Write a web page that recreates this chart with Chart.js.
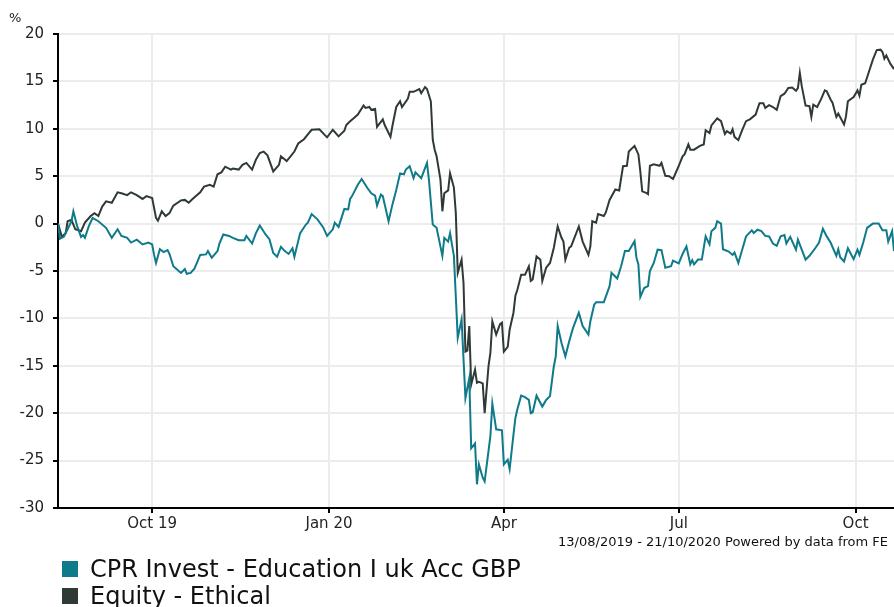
<!DOCTYPE html>
<html>
<head>
<meta charset="utf-8">
<script src="https://cdn.jsdelivr.net/npm/chart.js@4.4.0/dist/chart.umd.min.js"></script>
<style>
body { margin:0; background:#fff; font-family:"DejaVu Sans", Verdana, sans-serif; }
#wrap { position:relative; width:894px; height:607px; overflow:hidden; }
#unit { position:absolute; left:9px; top:10px; font-size:13px; color:#222; }
#source { position:absolute; right:6px; top:534px; font-size:13px; color:#111; white-space:nowrap; }
#legend { position:absolute; left:62px; top:555px; font-size:24px; color:#111; }
.item { display:flex; align-items:center; height:27px; white-space:nowrap; }
.sw { width:16px; height:16px; margin-right:12px; }
</style>
</head>
<body>
<div id="wrap">
  <canvas id="chart" width="894" height="607"></canvas>
  <div id="unit">%</div>
  <div id="source">13/08/2019 - 21/10/2020 Powered by data from FE</div>
  <div id="legend"></div>
</div>
<script>
// days counted from 13/08/2019
var tickDays = [49, 141, 232, 323, 415];
var tickLabels = ["Oct 19", "Jan 20", "Apr", "Jul", "Oct"];

var seriesNames = ["CPR Invest - Education I uk Acc GBP", "Equity - Ethical"];
var seriesColors = ["#0e7a8a", "#2f3a37"];

var cprDays = [0,1,3,5,7,8,10,12,13,14,16,18,21,25,28,31,33,36,38,41,44,47,49,50,51,53,55,57,58,60,64,66,67,69,71,74,77,78,80,83,84,86,89,91,94,97,98,101,103,105,108,110,112,114,116,118,120,122,123,126,129,130,132,135,138,140,143,144,146,149,151,152,
  153,156,158,161,163,165,166,168,169,172,174,176,178,180,181,183,185,186,189,192,193,195,197,200,201,203,204,206,208,210,212,214,215,217,218,219,221,222,225,226,228,231,232,234,235,
  237,238,239,241,243,245,246,247,249,252,254,256,258,259,260,262,264,266,268,271,273,276,277,279,280,284,287,288,291,293,295,297,300,301,302,303,305,307,308,310,312,314,316,319,320,323,325,327,329,330,331,333,
  335,337,339,340,342,343,345,346,349,351,352,354,356,358,361,362,364,366,368,370,372,374,376,378,379,381,384,385,387,389,391,394,396,398,400,402,405,406,407,409,411,414,416,417,419,421,424,427,429,431,432,434,435];
var cprValues = [0,-1.6,-1.4,-0.6,0.25,1.3,-0.3,-1.4,-1.2,-1.5,-0.3,0.6,0.25,-0.45,-1.5,-0.6,-1.3,-1.5,-2.0,-1.7,-2.2,-2.0,-2.2,-3.3,-4.15,-2.7,-3.0,-2.8,-3.2,-4.5,-5.2,-4.8,-5.3,-5.2,-4.75,-3.3,-3.25,-2.9,-3.6,-2.9,-2.1,-1.15,-1.3,-1.5,-1.75,-1.75,-1.3,-2.1,-1.0,-0.2,-1.15,-1.65,-3.1,-3.5,-2.45,-2.9,-3.2,-2.6,-3.5,-1.0,-0.1,0.1,1.0,0.45,-0.4,-1.3,-0.6,0.1,-0.35,1.55,1.5,2.6,
  2.9,4.1,4.7,3.75,3.2,2.95,1.9,3.05,2.9,0.25,2.0,3.55,5.3,5.2,5.7,6.05,4.8,5.4,4.8,6.4,4.65,-0.1,-0.45,-3.4,-1.5,-1.9,-1.0,-3.4,-12.05,-10.1,-18.4,-16.3,-23.7,-23.2,-27.5,-25.4,-26.8,-27.2,-22.4,-19.0,-21.7,-21.8,-25.4,-24.9,-25.9,
  -22.25,-20.5,-19.6,-18.15,-18.3,-18.6,-20.0,-19.9,-18.15,-19.3,-18.6,-18.2,-15.05,-14.0,-10.8,-12.6,-14.0,-12.4,-11.0,-9.4,-10.8,-11.7,-10.3,-8.55,-8.3,-8.3,-6.6,-5.2,-5.8,-4.5,-2.9,-2.9,-1.85,-3.6,-4.3,-7.75,-6.8,-6.6,-5.0,-4.15,-2.75,-2.8,-4.65,-4.5,-3.9,-4.2,-3.2,-2.4,-4.3,-3.85,-4.3,-3.8,
  -3.8,-1.35,-2.2,-0.8,-0.45,0.25,0.0,-2.7,-2.95,-3.3,-3.05,-4.15,-2.75,-1.35,-0.7,-1.0,-0.65,-0.8,-1.3,-1.35,-2.1,-2.35,-1.35,-1.2,-2.1,-1.4,-2.75,-1.7,-2.75,-3.8,-3.4,-2.6,-2.0,-0.55,-1.35,-2.0,-3.4,-2.7,-3.55,-4.0,-2.6,-3.75,-2.75,-3.3,-2.0,-0.45,0.0,0.0,-0.7,-0.7,-1.9,-0.8,-2.9];

var ethicalDays = [0,2,4,5,7,9,12,14,17,19,21,23,25,28,31,33,36,38,41,44,46,49,51,52,54,56,58,60,64,66,68,70,74,76,79,81,83,85,87,90,91,94,96,98,101,103,105,107,109,112,115,116,119,123,125,128,130,132,136,140,143,146,149,150,152,
  154,156,159,160,162,163,165,166,169,170,173,174,176,178,179,182,183,185,188,189,191,192,194,195,196,197,199,200,201,203,204,206,207,208,210,211,212,213,214,215,217,218,219,221,222,224,225,226,228,230,231,232,234,235,
  237,238,239,241,243,245,246,247,249,251,252,254,256,258,260,262,263,264,266,267,271,273,276,277,278,280,281,284,285,287,290,292,294,296,297,300,302,303,304,306,307,308,310,313,314,316,318,320,321,323,325,326,328,329,331,334,
  336,337,339,340,343,345,347,348,350,351,352,354,356,358,360,363,365,367,368,370,372,374,376,378,380,382,384,385,386,387,389,391,392,393,395,397,399,400,402,403,405,406,409,410,411,414,416,417,418,420,422,424,426,428,429,430,431,433,435];
var ethicalValues = [0,-1.4,-1.0,0.25,0.4,-0.6,-0.8,0.1,0.8,1.1,0.8,1.8,2.35,2.2,3.3,3.2,3.0,3.3,3.0,2.6,2.9,2.7,0.6,0.3,1.3,0.8,1.1,1.9,2.45,2.5,2.2,2.6,3.3,3.9,4.1,3.9,5.2,5.4,6.0,5.7,5.8,5.7,6.2,6.4,5.7,6.75,7.45,7.6,7.2,5.5,6.2,7.1,6.6,7.6,8.45,8.9,9.4,9.9,9.95,9.1,9.9,9.2,9.8,10.4,10.8,
  11.15,11.5,12.45,12.2,12.3,12.0,12.1,10.2,11.0,10.4,9.15,10.3,12.3,12.9,12.3,13.15,13.9,13.9,14.2,13.75,14.4,14.2,12.9,8.85,7.8,7.1,4.65,1.3,3.2,3.5,5.3,3.8,1.1,-5.2,-3.8,-6.25,-13.5,-13.4,-10.8,-17.0,-15.4,-16.8,-16.7,-16.85,-20.0,-15.05,-13.6,-10.3,-11.7,-10.6,-10.45,-13.5,-13.0,-11.2,
  -9.4,-7.6,-7.0,-5.4,-5.4,-4.5,-6.05,-5.9,-3.45,-3.8,-6.05,-4.65,-4.15,-2.55,-0.3,-1.5,-1.9,-3.8,-2.55,-2.4,-0.3,-1.9,-3.3,-2.4,0.25,0.1,1.0,0.8,1.15,2.5,3.6,3.5,6.05,6.1,7.6,8.2,7.3,5.5,3.4,3.25,3.1,6.1,6.25,6.1,6.4,5.05,5.0,4.7,5.15,6.1,7.1,7.3,8.35,7.8,7.8,8.2,
  8.35,9.85,9.55,10.35,11.1,10.8,9.45,9.75,9.5,9.95,9.15,8.8,9.85,10.8,11.0,11.5,12.7,12.7,12.2,12.5,12.3,12.0,13.45,13.7,14.3,14.35,14.0,14.3,15.9,14.5,12.45,12.4,11.25,12.55,12.3,13.1,14.05,13.95,13.1,12.75,11.25,11.6,10.45,11.3,12.9,13.35,14.05,13.5,14.65,14.8,16.05,17.3,18.3,18.35,18.1,17.4,17.75,16.9,16.3];

function toPoints(days, values) {
    return days.map((d, i) => ({x: d, y: values[i]}));
}

// html legend
var lg = "";
seriesNames.forEach((n, i) => {
    lg += "<div class='item'><span class='sw' style='background:" + seriesColors[i] + "'></span>" + n + "</div>";
});
document.getElementById("legend").innerHTML = lg;

var font = {family: "'DejaVu Sans', Verdana, sans-serif", size: 15};

new Chart(document.getElementById("chart"), {
    type: "line",
    data: {
        datasets: [{
            label: seriesNames[0],
            data: toPoints(cprDays, cprValues),
            borderColor: seriesColors[0],
            borderWidth: 2,
            pointRadius: 0,
            tension: 0
        }, {
            label: seriesNames[1],
            data: toPoints(ethicalDays, ethicalValues),
            borderColor: seriesColors[1],
            borderWidth: 2,
            pointRadius: 0,
            tension: 0
        }]
    },
    options: {
        responsive: false,
        animation: false,
        layout: {padding: {top: 34, right: 0, left: 0, bottom: 59}},
        plugins: {legend: {display: false}, tooltip: {enabled: false}},
        scales: {
            x: {
                type: "linear",
                min: 0,
                max: 435,
                afterBuildTicks: s => { s.ticks = tickDays.map(v => ({value: v})); },
                afterFit: s => { s.height = 40; },
                ticks: {
                    callback: (v, i) => tickLabels[i],
                    font: font,
                    color: "#222",
                    padding: 2,
                    maxRotation: 0,
                    autoSkip: false
                },
                grid: {color: "#ececec", lineWidth: 2, tickColor: "#000", tickLength: 5, tickWidth: 2},
                border: {color: "#000", width: 2}
            },
            y: {
                min: -30,
                max: 20,
                afterFit: s => { s.width = 58; },
                ticks: {stepSize: 5, font: font, color: "#222", padding: 9},
                grid: {color: "#ececec", lineWidth: 2, tickColor: "#000", tickLength: 5, tickWidth: 2},
                border: {color: "#000", width: 2}
            }
        }
    }
});
</script>
</body>
</html>
